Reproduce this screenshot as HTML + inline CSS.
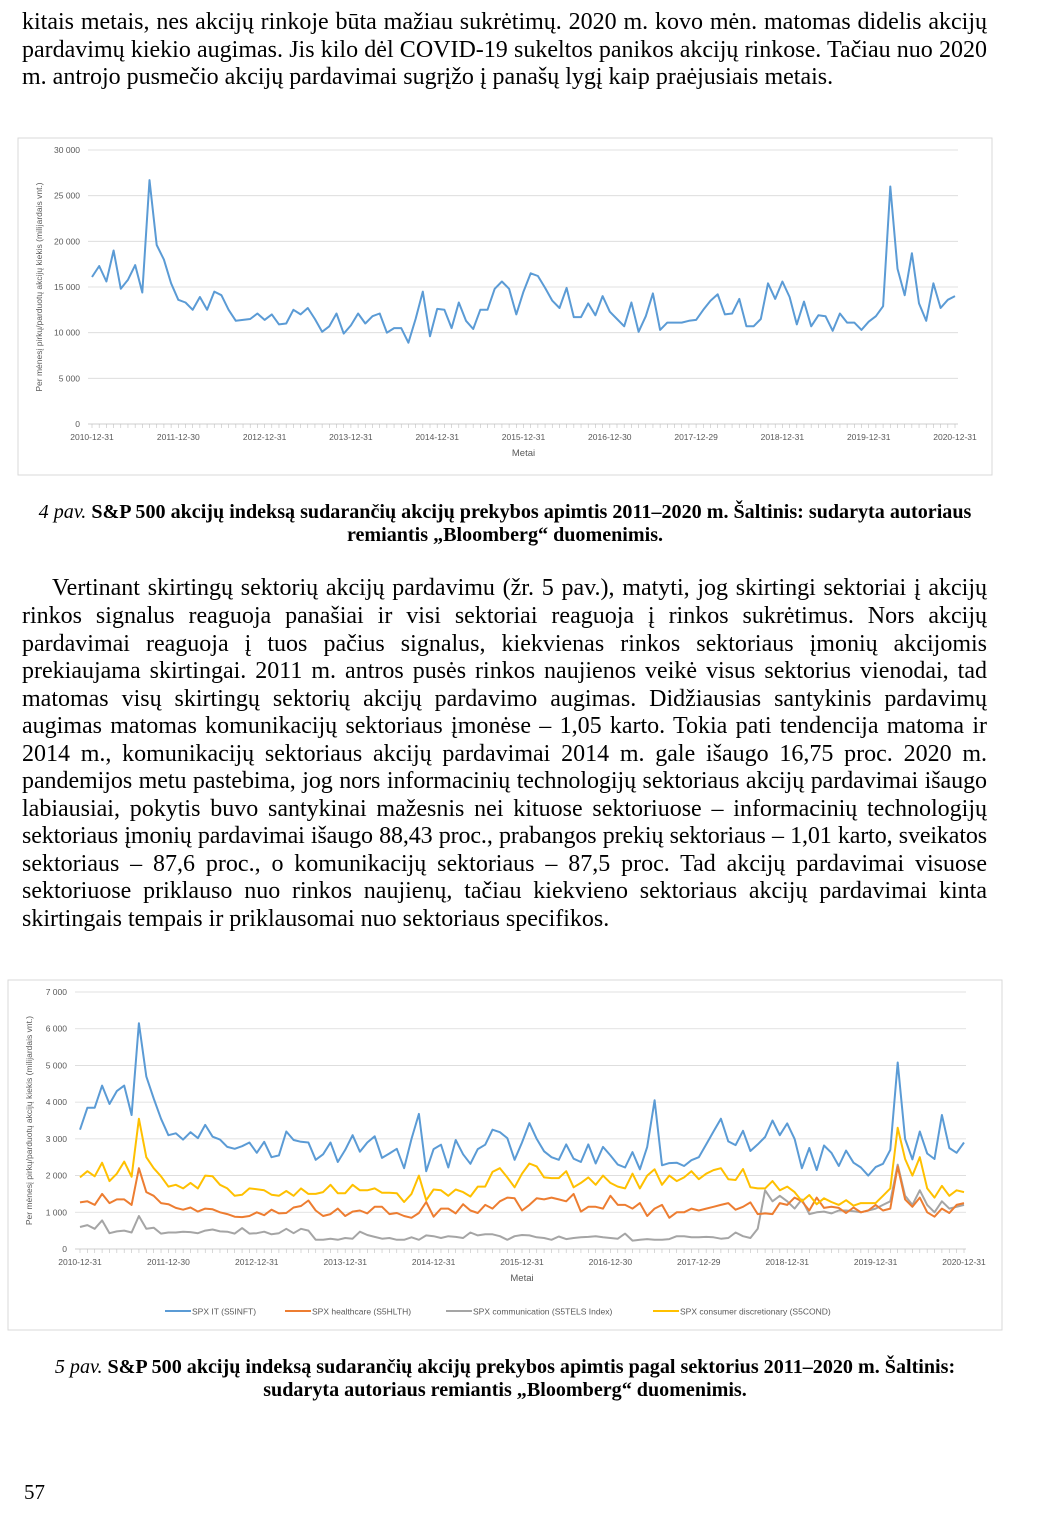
<!DOCTYPE html>
<html><head><meta charset="utf-8">
<style>
body{margin:0;background:#fff;}
#pg{position:relative;width:1054px;height:1540px;overflow:hidden;font-family:"Liberation Serif",serif;color:#000;}
.l{position:absolute;left:22px;width:965px;font-size:24px;line-height:26px;white-space:nowrap;text-align:justify;text-align-last:justify;}
.ll{text-align-last:left;}
.cap{position:absolute;left:0;width:1010px;text-align:center;font-size:20.1px;font-weight:bold;line-height:23px;white-space:nowrap;}
.cap i{font-weight:normal;}
svg text{font-family:"Liberation Sans",sans-serif;fill:#595959;}
</style></head><body><div id="pg">
<div class="l" style="top:9px">kitais metais, nes akcijų rinkoje būta mažiau sukrėtimų. 2020 m. kovo mėn. matomas didelis akcijų</div>
<div class="l" style="top:37px">pardavimų kiekio augimas. Jis kilo dėl COVID-19 sukeltos panikos akcijų rinkose. Tačiau nuo 2020</div>
<div class="l ll" style="top:64px">m. antrojo pusmečio akcijų pardavimai sugrįžo į panašų lygį kaip praėjusiais metais.</div>

<svg id="c1" style="position:absolute;left:0;top:0" width="1054" height="1540"></svg>

<div class="cap" style="top:501px"><i>4 pav.</i> S&amp;P 500 akcijų indeksą sudarančių akcijų prekybos apimtis 2011–2020 m. Šaltinis: sudaryta autoriaus<br>remiantis „Bloomberg“ duomenimis.</div>

<div class="l" style="top:575px;left:52px;width:935px">Vertinant skirtingų sektorių akcijų pardavimu (žr. 5 pav.), matyti, jog skirtingi sektoriai į akcijų</div>
<div class="l" style="top:603px">rinkos signalus reaguoja panašiai ir visi sektoriai reaguoja į rinkos sukrėtimus. Nors akcijų</div>
<div class="l" style="top:631px">pardavimai reaguoja į tuos pačius signalus, kiekvienas rinkos sektoriaus įmonių akcijomis</div>
<div class="l" style="top:658px">prekiaujama skirtingai. 2011 m. antros pusės rinkos naujienos veikė visus sektorius vienodai, tad</div>
<div class="l" style="top:686px">matomas visų skirtingų sektorių akcijų pardavimo augimas. Didžiausias santykinis pardavimų</div>
<div class="l" style="top:713px">augimas matomas komunikacijų sektoriaus įmonėse – 1,05 karto. Tokia pati tendencija matoma ir</div>
<div class="l" style="top:741px">2014 m., komunikacijų sektoriaus akcijų pardavimai 2014 m. gale išaugo 16,75 proc. 2020 m.</div>
<div class="l" style="top:768px;letter-spacing:-0.05px">pandemijos metu pastebima, jog nors informacinių technologijų sektoriaus akcijų pardavimai išaugo</div>
<div class="l" style="top:796px">labiausiai, pokytis buvo santykinai mažesnis nei kituose sektoriuose – informacinių technologijų</div>
<div class="l" style="top:823px;letter-spacing:-0.12px;word-spacing:-1px">sektoriaus įmonių pardavimai išaugo 88,43 proc., prabangos prekių sektoriaus – 1,01 karto, sveikatos</div>
<div class="l" style="top:851px">sektoriaus – 87,6 proc., o komunikacijų sektoriaus – 87,5 proc. Tad akcijų pardavimai visuose</div>
<div class="l" style="top:878px">sektoriuose priklauso nuo rinkos naujienų, tačiau kiekvieno sektoriaus akcijų pardavimai kinta</div>
<div class="l ll" style="top:906px">skirtingais tempais ir priklausomai nuo sektoriaus specifikos.</div>

<div class="cap" style="top:1356px"><i>5 pav.</i> S&amp;P 500 akcijų indeksą sudarančių akcijų prekybos apimtis pagal sektorius 2011–2020 m. Šaltinis:<br>sudaryta autoriaus remiantis „Bloomberg“ duomenimis.</div>
<div style="position:absolute;left:24px;top:1480px;font-size:21px">57</div>
</div>
<script>
var NS="http://www.w3.org/2000/svg",svg=document.getElementById('c1');
function el(t,a,txt){var e=document.createElementNS(NS,t);for(var k in a)e.setAttribute(k,a[k]);if(txt!=null)e.textContent=txt;svg.appendChild(e);return e;}
var labs=["2010-12-31","2011-12-30","2012-12-31","2013-12-31","2014-12-31","2015-12-31","2016-12-30","2017-12-29","2018-12-31","2019-12-31","2020-12-31"];
function chart(o){
 el('rect',{x:o.fx,y:o.fy,width:o.fw,height:o.fh,fill:'#fff',stroke:'#d9d9d9','stroke-width':1});
 for(var i=0;i<=o.nt;i++){var y=o.y0-(o.y0-o.y1)*i/o.nt;
  if(i>0)el('line',{x1:o.gx0,x2:o.gx1,y1:y,y2:y,stroke:'#d9d9d9','stroke-width':0.8});
  el('text',{x:o.gx0-8,y:y+3,'font-size':8.5,'text-anchor':'end'},o.tl[i]);}
 el('line',{x1:o.gx0,x2:o.gx1,y1:o.y0,y2:o.y0,stroke:'#bfbfbf','stroke-width':0.8});
 var dx=(o.x1-o.x0)/120;
 for(var m=0;m<=120;m++){var x=o.x0+m*dx;el('line',{x1:x,x2:x,y1:o.y0,y2:o.y0+4,stroke:'#bfbfbf','stroke-width':0.6});}
 for(var k=0;k<11;k++)el('text',{x:o.x0+k*12*dx,y:o.y0+16,'font-size':8.5,'text-anchor':'middle'},labs[k]);
 el('text',{x:(o.x0+o.x1)/2,y:o.y0+32,'font-size':9.5,'text-anchor':'middle'},'Metai');
 el('text',{x:0,y:0,'font-size':8.5,'text-anchor':'middle',transform:'translate('+o.ytx+','+(o.y0+o.y1)/2+') rotate(-90)'},'Per mėnesį pirkų/parduotų akcijų kiekis (milijardais vnt.)');
 o.series.forEach(function(s){var p=s.d.map(function(v,i){return (o.x0+i*dx).toFixed(1)+','+(o.y0-(o.y0-o.y1)*v/o.max).toFixed(1)}).join(' ');
  el('polyline',{points:p,fill:'none',stroke:s.c,'stroke-width':2,'stroke-linejoin':'round'});});
}
var d1=[16.1,17.3,15.6,19,14.8,15.8,17.4,14.4,26.7,19.6,18,15.4,13.6,13.3,12.5,13.9,12.5,14.5,14.1,12.5,11.3,11.4,11.5,12.1,11.4,12,10.9,11,12.5,12,12.7,11.5,10.1,10.7,12.1,9.9,10.8,12.1,11,11.8,12.1,10,10.5,10.5,8.9,11.5,14.5,9.6,12.6,12.5,10.5,13.3,11.3,10.4,12.5,12.5,14.8,15.6,14.8,12,14.5,16.5,16.2,14.9,13.5,12.7,14.9,11.7,11.7,13.2,11.9,14,12.3,11.5,10.7,13.3,10.1,11.8,14.3,10.3,11.1,11.1,11.1,11.3,11.4,12.5,13.5,14.2,12,12.1,13.7,10.7,10.7,11.5,15.4,13.7,15.6,13.9,10.9,13.4,10.7,11.9,11.8,10.2,12.1,11.1,11.1,10.3,11.2,11.8,12.9,26,17,14.1,18.7,13.2,11.3,15.4,12.7,13.6,14.0];
chart({fx:18,fy:138,fw:974,fh:337,gx0:88,gx1:958,x0:92,x1:955,y0:424,y1:150,nt:6,max:30,tl:["0","5 000","10 000","15 000","20 000","25 000","30 000"],ytx:42,series:[{d:d1,c:'#5b9bd5'}]});
var it=[3.25,3.85,3.85,4.45,3.95,4.3,4.45,3.65,6.15,4.7,4.1,3.55,3.1,3.15,2.98,3.18,3.02,3.38,3.06,2.98,2.78,2.73,2.8,2.9,2.62,2.92,2.5,2.55,3.2,2.97,2.92,2.9,2.43,2.58,2.9,2.37,2.7,3.1,2.65,2.9,3.07,2.48,2.6,2.73,2.2,3.0,3.68,2.12,2.72,2.84,2.22,2.97,2.58,2.32,2.72,2.84,3.25,3.18,3.02,2.43,2.9,3.43,3.0,2.66,2.5,2.43,2.85,2.46,2.37,2.85,2.33,2.78,2.55,2.3,2.22,2.64,2.17,2.78,4.05,2.28,2.34,2.35,2.26,2.42,2.5,2.85,3.2,3.55,2.93,2.83,3.22,2.67,2.85,3.05,3.5,3.1,3.42,3.0,2.2,2.75,2.15,2.82,2.62,2.26,2.68,2.35,2.22,2.0,2.23,2.32,2.7,5.08,3.0,2.44,3.2,2.6,2.45,3.65,2.75,2.62,2.9];
var hc=[1.27,1.3,1.2,1.5,1.25,1.35,1.35,1.2,2.2,1.55,1.45,1.25,1.22,1.12,1.07,1.13,1.02,1.1,1.08,1.0,0.95,0.88,0.87,0.9,1.0,0.92,1.07,0.97,0.98,1.13,1.17,1.32,1.05,0.9,0.95,1.1,0.9,1.02,1.05,0.97,1.15,1.15,0.95,0.98,0.9,0.85,0.98,1.28,0.88,1.1,1.1,0.97,1.22,1.05,0.98,1.2,1.1,1.3,1.4,1.38,1.05,1.2,1.38,1.35,1.4,1.35,1.3,1.5,1.02,1.15,1.15,1.1,1.45,1.2,1.2,1.1,1.25,0.9,1.1,1.2,0.85,1.0,1.0,1.1,1.05,1.1,1.15,1.2,1.25,1.07,1.15,1.27,0.95,0.97,0.95,1.25,1.2,1.4,1.3,1.05,1.4,1.12,1.15,1.12,0.98,1.13,1.0,1.05,1.2,1.05,1.1,2.25,1.35,1.15,1.4,1.0,0.88,1.1,0.98,1.2,1.25];
var cm=[0.6,0.65,0.55,0.78,0.43,0.48,0.5,0.45,0.9,0.55,0.58,0.42,0.45,0.45,0.47,0.46,0.43,0.5,0.53,0.48,0.47,0.42,0.57,0.42,0.43,0.47,0.4,0.43,0.55,0.43,0.55,0.5,0.25,0.25,0.28,0.25,0.3,0.28,0.47,0.38,0.33,0.28,0.3,0.25,0.25,0.32,0.25,0.37,0.35,0.3,0.35,0.33,0.3,0.45,0.37,0.4,0.4,0.35,0.25,0.35,0.38,0.37,0.32,0.3,0.25,0.34,0.27,0.3,0.32,0.33,0.35,0.32,0.3,0.28,0.42,0.23,0.25,0.27,0.25,0.25,0.27,0.35,0.35,0.32,0.32,0.33,0.32,0.28,0.3,0.45,0.35,0.3,0.55,1.6,1.3,1.45,1.3,1.1,1.35,0.95,1.0,1.02,0.97,1.05,1.05,1.03,1.0,1.05,1.1,1.2,1.3,2.3,1.45,1.2,1.6,1.2,1.0,1.3,1.1,1.15,1.2];
var cd=[1.95,2.12,1.98,2.35,1.85,2.05,2.38,1.97,3.55,2.5,2.2,1.98,1.7,1.75,1.65,1.8,1.65,2.0,1.98,1.75,1.65,1.45,1.48,1.65,1.63,1.6,1.48,1.45,1.58,1.45,1.65,1.5,1.5,1.55,1.75,1.52,1.52,1.75,1.6,1.6,1.65,1.53,1.53,1.52,1.28,1.5,2.0,1.33,1.62,1.6,1.45,1.62,1.55,1.43,1.7,1.7,2.1,2.2,1.95,1.68,2.05,2.33,2.25,1.95,1.93,1.93,2.12,1.68,1.8,1.95,1.75,2.0,1.8,1.7,1.65,2.05,1.65,2.0,2.17,1.75,2.0,1.85,1.95,2.12,1.9,2.05,2.15,2.2,1.9,1.88,2.18,1.68,1.65,1.65,1.85,1.6,1.7,1.55,1.3,1.47,1.22,1.38,1.28,1.2,1.33,1.18,1.25,1.25,1.25,1.45,1.65,3.3,2.45,2.0,2.5,1.65,1.4,1.72,1.45,1.6,1.55];
chart({fx:8,fy:980,fw:994,fh:350,gx0:75,gx1:966,x0:80,x1:964,y0:1249,y1:992,nt:7,max:7,tl:["0","1 000","2 000","3 000","4 000","5 000","6 000","7 000"],ytx:32,series:[{d:cm,c:'#a5a5a5'},{d:hc,c:'#ed7d31'},{d:cd,c:'#ffc000'},{d:it,c:'#5b9bd5'}]});
var lg=[[165,'#5b9bd5','SPX IT (S5INFT)'],[285,'#ed7d31','SPX healthcare (S5HLTH)'],[446,'#a5a5a5','SPX communication (S5TELS Index)'],[653,'#ffc000','SPX consumer discretionary (S5COND)']];
lg.forEach(function(a){el('line',{x1:a[0],x2:a[0]+26,y1:1311,y2:1311,stroke:a[1],'stroke-width':2});el('text',{x:a[0]+27,y:1314.5,'font-size':8.5},a[2]);});
</script>
</body></html>
